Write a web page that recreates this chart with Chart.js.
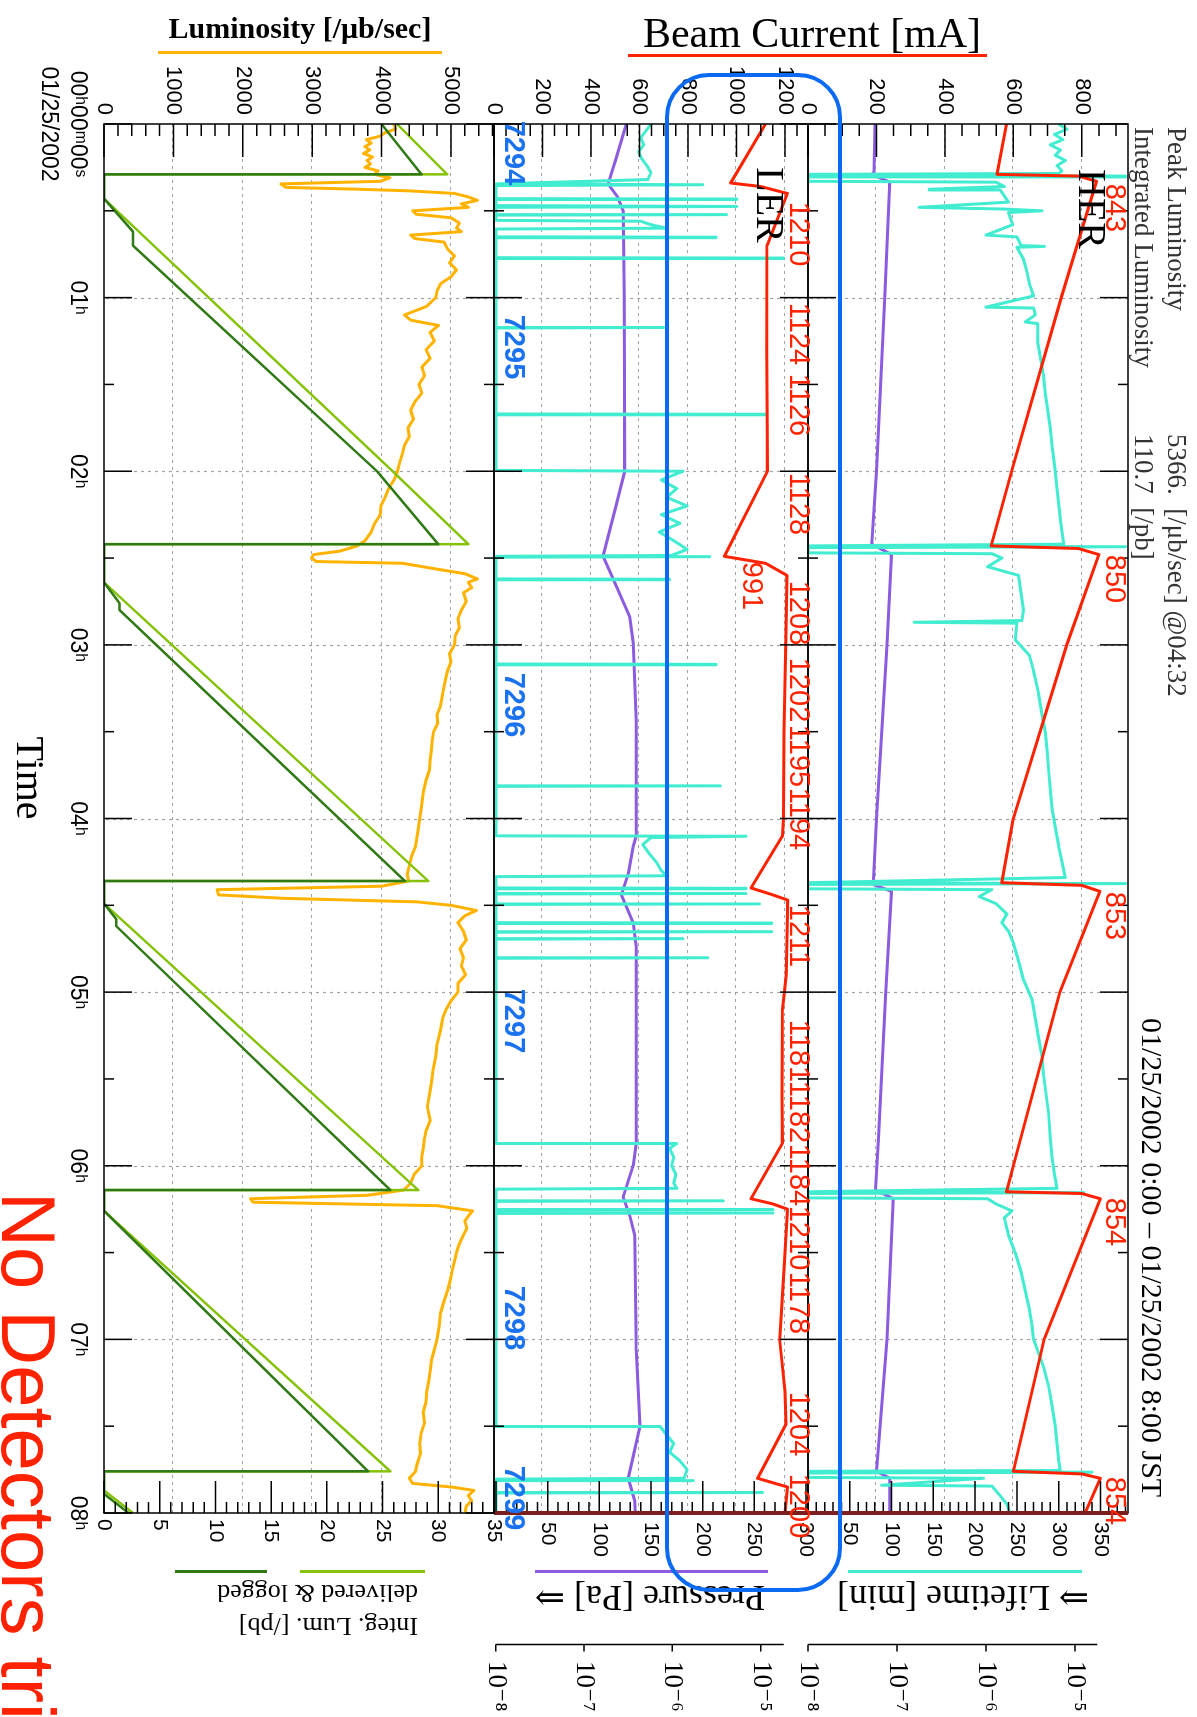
<!DOCTYPE html>
<html><head><meta charset="utf-8">
<script src="https://cdn.jsdelivr.net/npm/chart.js@4.4.1/dist/chart.umd.min.js"></script>
<style>
html,body{margin:0;padding:0;background:#fff;width:1197px;height:1717px;overflow:hidden;position:relative;}
#land{position:absolute;left:0;top:0;width:1717px;height:1197px;transform-origin:0 0;transform:translate(1197px,0) rotate(90deg);}
#land canvas{position:absolute;left:0;}
.t{position:absolute;white-space:nowrap;line-height:1;}
.c{transform:translate(-50%,-50%);}
.serif{font-family:'Liberation Serif','DejaVu Serif',serif;}
.sans{font-family:'Liberation Sans','DejaVu Sans',sans-serif;}
.red{color:#ff2200;font-size:29px;}
.run{color:#1a72f0;font-size:29px;font-weight:bold;}
.bar{position:absolute;height:3px;}
</style></head><body>
<div id="land">
  <canvas id="her" width="1717" height="400" style="top:29px"></canvas>
  <canvas id="ler" width="1717" height="394" style="top:349px"></canvas>
  <canvas id="lum" width="1717" height="534" style="top:663px"></canvas>

  <div class="t serif" style="left:127px;top:20px;font-size:27px;color:#333;transform:translateY(-50%)">Peak Luminosity</div>
  <div class="t serif" style="left:434px;top:20px;font-size:27px;color:#333;transform:translateY(-50%)">5366.&nbsp; [/μb/sec] @04:32</div>
  <div class="t serif" style="left:127px;top:53px;font-size:27px;color:#333;transform:translateY(-50%)">Integrated Luminosity</div>
  <div class="t serif" style="left:434px;top:53px;font-size:27px;color:#333;transform:translateY(-50%)">110.7&nbsp; [/pb]</div>
  <div class="t serif" style="left:1018px;top:45px;font-size:30px;transform:translateY(-50%)">01/25/2002 0:00 – 01/25/2002 8:00 JST</div>

  <div class="t serif c" style="left:209px;top:105px;font-size:40px">HER</div>
  <div class="t serif c" style="left:205px;top:427px;font-size:40px">LER</div>

  <div class="t sans c red" style="left:208px;top:81px">843</div>
  <div class="t sans c red" style="left:579px;top:81px">850</div>
  <div class="t sans c red" style="left:916px;top:81px">853</div>
  <div class="t sans c red" style="left:1222px;top:81px">854</div>
  <div class="t sans c red" style="left:1501px;top:81px">854</div>

  <div class="t sans c red" style="left:234px;top:397px">1210</div>
  <div class="t sans c red" style="left:334px;top:397px">1124</div>
  <div class="t sans c red" style="left:405px;top:397px">1126</div>
  <div class="t sans c red" style="left:504px;top:397px">1128</div>
  <div class="t sans c red" style="left:586px;top:444px">991</div>
  <div class="t sans c red" style="left:613px;top:397px">1208</div>
  <div class="t sans c red" style="left:690px;top:397px">1202</div>
  <div class="t sans c red" style="left:756px;top:397px">1195</div>
  <div class="t sans c red" style="left:819px;top:397px">1194</div>
  <div class="t sans c red" style="left:936px;top:397px">1211</div>
  <div class="t sans c red" style="left:1051px;top:397px">1181</div>
  <div class="t sans c red" style="left:1112px;top:397px">1182</div>
  <div class="t sans c red" style="left:1175px;top:397px">1184</div>
  <div class="t sans c red" style="left:1238px;top:397px">1210</div>
  <div class="t sans c red" style="left:1303px;top:397px">1178</div>
  <div class="t sans c red" style="left:1424px;top:397px">1204</div>
  <div class="t sans c red" style="left:1506px;top:397px">1200</div>

  <div class="t sans c run" style="left:153px;top:682px">7294</div>
  <div class="t sans c run" style="left:347px;top:682px">7295</div>
  <div class="t sans c run" style="left:705px;top:682px">7296</div>
  <div class="t sans c run" style="left:1021px;top:682px">7297</div>
  <div class="t sans c run" style="left:1318px;top:682px">7298</div>
  <div class="t sans c run" style="left:1498px;top:682px">7299</div>

  <div class="t serif c" style="left:778px;top:1167px;font-size:40px">Time</div>
  <div class="t sans" style="left:1192px;top:1131px;font-size:76px;line-height:76px;color:#ff2200">No Detectors tri</div>
</div>

<div class="t serif c" style="left:812px;top:33px;font-size:42px">Beam Current [mA]</div>
<div class="bar" style="left:628px;top:54px;width:359px;background:#ff2200"></div>
<div class="t serif c" style="left:300px;top:28px;font-size:30px;font-weight:bold">Luminosity [/μb/sec]</div>
<div class="bar" style="left:158px;top:51px;width:284px;background:#ffb300"></div>

<div class="t serif" style="left:963px;top:1598px;font-size:36px;transform:translate(-50%,-50%) rotate(180deg)">⇒ Lifetime [min]</div>
<div class="bar" style="left:848px;top:1570px;width:234px;background:#42ecd0"></div>
<div class="t serif" style="left:650px;top:1598px;font-size:36px;transform:translate(-50%,-50%) rotate(180deg)">Pressure [Pa] ⇒</div>
<div class="bar" style="left:535px;top:1570px;width:233px;background:#8c5ce0"></div>
<div class="t serif" style="left:183px;top:1577px;width:235px;font-size:26px;line-height:33px;white-space:pre;transform:rotate(180deg)">Integ. Lum. [/pb]
delivered &amp; logged</div>
<div class="bar" style="left:300px;top:1570px;width:125px;background:#86c20a"></div>
<div class="bar" style="left:175px;top:1570px;width:92px;background:#2f7a14"></div>

<div style="position:absolute;left:665px;top:73px;width:177px;height:1519px;box-sizing:border-box;border:4.5px solid #0a6af2;border-radius:44px;"></div>

<script>
// ---------- axis ticks ----------
const hours = [0, 1, 2, 3, 4, 5, 6, 7, 8];
const timeTickLabels = [['00ʰ00ᵐ00ˢ', '01/25/2002'], '01ʰ', '02ʰ', '03ʰ', '04ʰ', '05ʰ', '06ʰ', '07ʰ', '08ʰ'];
const herCurTicks = [0, 200, 400, 600, 800];
const lerCurTicks = [0, 200, 400, 600, 800, 1000, 1200];
const lumTicks = [0, 1000, 2000, 3000, 4000, 5000];
const herLifeTicks = [50, 100, 150, 200, 250, 300, 350];
const lerLifeTicks = [50, 100, 150, 200, 250, 300];
const intTicks = [0, 5, 10, 15, 20, 25, 30, 35];
const presTicks = [1e-8, 1e-7, 1e-6, 1e-5];
const presTickLabels = ['10⁻⁸', '10⁻⁷', '10⁻⁶', '10⁻⁵'];

// ---------- HER (time [h], value) ----------
const herCurrent = [[0,580],[0.29,552],[0.30,790],[0.33,843],[1.0,740],[2.0,595],[2.43,535],[2.445,790],[2.48,850],[3.0,756],[4.0,600],[4.37,566],[4.385,800],[4.42,853],[5.0,736],[6.0,600],[6.15,580],[6.16,800],[6.19,854],[7.0,690],[7.76,600],[7.775,800],[7.80,854],[8.0,810]];
const herLifetime = [[0,300],[0.03,310],[0.06,295],[0.09,305],[0.12,290],[0.15,302],[0.18,296],[0.21,308],[0.24,298],[0.27,304],[0.285,300],
 [0.29,0],[0.295,0],[0.30,380],[0.305,0],[0.33,0],
 [0.335,225],[0.36,235],[0.376,145],[0.38,230],[0.45,240],[0.48,133],[0.49,235],[0.50,280],[0.51,240],[0.58,245],[0.64,213],[0.65,250],[0.70,255],[0.705,283],[0.71,250],[0.78,258],[0.85,262],[0.92,265],[0.99,270],[1.055,213],[1.06,270],[1.10,272],[1.14,260],[1.15,275],[1.26,275],[1.34,278],[1.45,282],[1.55,284],[1.65,287],[1.75,290],[1.85,292],[2.0,296],[2.1,298],[2.27,302],[2.35,304],[2.42,306],
 [2.43,0],[2.435,380],[2.44,0],[2.47,0],
 [2.475,220],[2.50,232],[2.55,215],[2.6,252],[2.7,255],[2.8,258],[2.86,256],[2.87,127],[2.875,250],[2.97,248],[3.06,265],[3.15,270],[3.28,276],[3.4,280],[3.5,284],[3.6,286],[3.72,288],[3.83,290],[3.94,292],[4.05,296],[4.16,300],[4.25,304],[4.34,308],
 [4.37,0],[4.375,380],[4.38,0],[4.405,0],
 [4.41,220],[4.45,205],[4.49,225],[4.55,238],[4.60,232],[4.65,240],[4.72,246],[4.82,252],[4.93,258],[5.04,268],[5.15,272],[5.26,276],[5.37,280],[5.48,282],[5.59,285],[5.70,288],[5.84,290],[5.95,292],[6.05,295],[6.13,298],
 [6.15,0],[6.155,330],[6.16,0],[6.185,0],
 [6.19,215],[6.22,225],[6.26,244],[6.30,235],[6.40,240],[6.5,248],[6.61,255],[6.72,260],[6.83,265],[6.92,268],[7.0,270],[7.08,276],[7.16,282],[7.27,288],[7.38,292],[7.5,296],[7.6,298],[7.7,300],[7.755,302],
 [7.76,0],[7.765,340],[7.77,0],[7.795,0],
 [7.80,210],[7.84,88],[7.845,220],[7.9,230],[7.95,238],[8.0,242]];
const herPressure = [[0,5.66e-8],[0.28,5.5e-8],[0.29,5.2e-8],[0.335,8.3e-8],[1.0,7.3e-8],[2.0,5.9e-8],[2.42,5.2e-8],[2.48,8.7e-8],[3.0,7.7e-8],[4.0,5.9e-8],[4.38,5.4e-8],[4.42,8.7e-8],[5.0,7.5e-8],[5.84,6.2e-8],[6.14,5.75e-8],[6.19,9.1e-8],[7.0,7.7e-8],[7.76,5.9e-8],[7.80,8.3e-8],[8.0,8.3e-8]];

// ---------- LER ----------
const lerCurrent = [[0,1120],[0.34,976],[0.36,1100],[0.40,1210],[0.70,1126],[1.3,1125],[2.0,1128],[2.49,950],[2.53,1120],[2.60,1208],[3.0,1203],[3.5,1196],[4.0,1194],[4.10,1190],[4.40,1060],[4.44,1150],[4.47,1211],[4.9,1205],[5.1,1190],[5.6,1188],[5.87,1190],[6.19,1060],[6.22,1150],[6.25,1210],[6.6,1196],[7.0,1178],[7.3,1200],[7.49,1204],[7.80,1087],[7.83,1160],[7.85,1210],[8.0,1200]];
const lerLifetime = [[0,150],[0.04,145],[0.08,140],[0.12,143],[0.16,138],[0.2,141],[0.24,146],[0.28,150],[0.32,147],
 [0.345,0],[0.35,200],[0.355,0],[0.43,0],[0.432,233],[0.435,0],[0.47,0],[0.475,233],[0.48,0],[0.52,0],[0.522,223],[0.525,0],
 [0.555,0],[0.56,140],[0.58,150],[0.60,165],[0.605,0],
 [0.65,0],[0.652,213],[0.655,0],[0.77,0],[0.772,278],[0.775,0],
 [1.17,0],[1.172,162],[1.175,0],[1.67,0],[1.672,262],[1.675,0],
 [1.995,0],[2.0,181],[2.05,160],[2.1,175],[2.15,165],[2.2,185],[2.25,160],[2.3,178],[2.35,158],[2.4,172],[2.45,185],[2.485,170],
 [2.49,0],[2.492,207],[2.495,0],[2.62,0],[2.622,168],[2.625,0],
 [3.11,0],[3.112,213],[3.115,0],[3.81,0],[3.812,217],[3.815,0],
 [4.10,0],[4.102,242],[4.11,150],[4.15,142],[4.2,148],[4.25,155],[4.3,160],[4.33,165],[4.335,0],
 [4.40,0],[4.402,242],[4.405,0],[4.43,0],[4.432,242],[4.435,0],[4.49,0],[4.492,255],[4.495,0],[4.60,0],[4.602,267],[4.605,0],[4.65,0],[4.652,267],[4.655,0],[4.69,0],[4.692,181],[4.695,0],[4.80,0],[4.802,205],[4.805,0],
 [5.87,0],[5.872,175],[5.90,168],[5.95,172],[6.0,170],[6.05,174],[6.10,172],[6.13,175],[6.135,0],
 [6.20,0],[6.202,220],[6.205,0],[6.25,0],[6.252,268],[6.255,0],[6.27,0],[6.272,268],[6.275,0],
 [7.50,0],[7.502,159],[7.55,165],[7.6,172],[7.65,168],[7.7,178],[7.75,185],[7.80,182],[7.805,0],
 [7.81,0],[7.812,191],[7.815,0],[7.88,0],[7.882,258],[7.885,0],[8.0,0]];
const lerPressure = [[0,3.0e-7],[0.2,2.3e-7],[0.345,1.87e-7],[0.42,2.4e-7],[0.5,2.77e-7],[1.0,2.85e-7],[2.0,2.89e-7],[2.2,2.3e-7],[2.49,1.64e-7],[2.62,2.13e-7],[2.84,3.3e-7],[2.99,3.6e-7],[3.44,3.9e-7],[4.10,3.9e-7],[4.16,3.6e-7],[4.32,3.16e-7],[4.44,2.65e-7],[4.6,3.6e-7],[4.74,3.9e-7],[5.87,3.9e-7],[6.0,3.6e-7],[6.18,2.77e-7],[6.29,3.3e-7],[6.40,3.75e-7],[7.06,3.9e-7],[7.5,4.3e-7],[7.80,3.16e-7],[7.93,3.75e-7],[8.0,3.8e-7]];

// ---------- Luminosity [/ub/sec], per fill ----------
const lumFill1 = [[0,4180],[0.03,4200],[0.05,4050],[0.07,3980],[0.09,3780],[0.11,3850],[0.13,3760],[0.15,3830],[0.17,3740],[0.19,3870],[0.21,3790],[0.23,3840],[0.25,3760],[0.27,3950],[0.29,3900],[0.31,4120],[0.33,3980],[0.345,2550],[0.365,2620],[0.375,3600],[0.385,4400],[0.40,5050],[0.42,5250],[0.44,5380],[0.46,5150],[0.48,5250],[0.50,4450],[0.52,4500],[0.54,5000],[0.57,5120],[0.60,5080],[0.62,5150],[0.64,4420],[0.66,4480],[0.68,4900],[0.72,4950],[0.76,5050],[0.80,4980],[0.84,5080],[0.88,5000],[0.92,4850],[0.96,4800],[1.0,4780],[1.05,4650],[1.10,4330],[1.13,4420],[1.16,4820],[1.20,4700],[1.25,4760],[1.30,4640],[1.35,4700],[1.40,4580],[1.45,4620],[1.50,4540],[1.55,4580],[1.60,4480],[1.65,4420],[1.70,4460],[1.75,4380],[1.80,4400],[1.85,4330],[1.90,4300],[1.95,4260],[2.0,4230],[2.05,4180],[2.10,4100],[2.15,4050],[2.20,3990],[2.25,3980],[2.30,3900],[2.35,3850],[2.40,3760],[2.43,3650]];
const lumFill2 = [[2.46,3400],[2.48,3020],[2.50,2990],[2.52,3060],[2.53,4300],[2.56,4740],[2.59,5200],[2.62,5380],[2.64,5250],[2.67,5300],[2.70,5180],[2.75,5220],[2.80,5150],[2.85,5100],[2.90,5120],[2.95,5060],[3.0,5050],[3.05,4980],[3.10,5000],[3.15,4950],[3.20,4920],[3.28,4880],[3.35,4850],[3.40,4800],[3.45,4810],[3.50,4750],[3.55,4730],[3.60,4720],[3.66,4700],[3.72,4690],[3.78,4640],[3.85,4600],[3.92,4580],[4.0,4550],[4.08,4520],[4.16,4490],[4.22,4430],[4.27,4400],[4.32,4370],[4.36,4390]];
const lumFill3 = [[4.39,4000],[4.41,1630],[4.44,1650],[4.46,2600],[4.48,4500],[4.50,5000],[4.53,5366],[4.56,5200],[4.60,5100],[4.65,5180],[4.70,5220],[4.75,5130],[4.80,5180],[4.85,5150],[4.90,5210],[4.95,5100],[5.0,5100],[5.05,5000],[5.10,4930],[5.15,4880],[5.22,4850],[5.30,4800],[5.37,4780],[5.45,4740],[5.52,4720],[5.59,4690],[5.66,4660],[5.74,4700],[5.80,4640],[5.84,4620],[5.90,4600],[5.95,4580],[6.0,4580],[6.05,4470],[6.10,4420],[6.14,4320]];
const lumFill4 = [[6.17,3800],[6.19,2110],[6.21,2150],[6.23,4800],[6.26,5310],[6.29,5250],[6.32,5200],[6.36,5230],[6.40,5180],[6.45,5120],[6.50,5080],[6.55,5050],[6.60,5020],[6.66,4990],[6.72,4950],[6.78,4900],[6.85,4850],[6.92,4830],[7.0,4800],[7.06,4760],[7.12,4720],[7.18,4700],[7.24,4680],[7.30,4650],[7.36,4640],[7.42,4600],[7.48,4620],[7.54,4570],[7.60,4550],[7.66,4560],[7.72,4510],[7.76,4490]];
const lumFill5 = [[7.80,4400],[7.83,4450],[7.85,5000],[7.87,5330],[7.90,5250],[7.93,5300],[7.96,5220],[8.0,5200]];

// ---------- Integrated luminosity [/pb] ----------
const intDelivered = [[0,26.3],[0.29,30.8],[0.29,0],[0.43,0],[2.0,25.9],[2.42,32.7],[2.42,0],[2.64,0],[4.36,29.1],[4.36,0],[4.49,0],[6.14,28.2],[6.14,0],[6.26,0],[7.76,25.7],[7.76,0],[7.87,0],[8.0,2.6]];
const intLogged = [[0,24.9],[0.29,28.5],[0.29,0],[0.43,0],[0.62,2.6],[0.70,2.6],[2.0,24.5],[2.42,30.0],[2.42,0],[2.64,0],[2.76,1.4],[2.80,1.4],[4.36,27.0],[4.36,0],[4.49,0],[4.58,1.1],[4.62,1.1],[6.14,25.7],[6.14,0],[6.26,0],[7.76,23.7],[7.76,0],[7.89,0],[8.0,2.2]];

// ---------- helpers ----------
const RED = '#ff2200', CYAN = '#42ecd0', PURPLE = '#8c5ce0', ORANGE = '#ffb300', LGREEN = '#86c20a', DGREEN = '#2f7a14';
const pts = arr => arr.map(p => ({x: p[0], y: p[1]}));
const fixed = vals => (s => { s.ticks = vals.map(v => ({value: v})); });
const lumAll = [].concat(lumFill1, lumFill2, lumFill3, lumFill4, lumFill5);

Chart.defaults.font.family = "'Liberation Sans','DejaVu Sans',sans-serif";
Chart.defaults.color = '#000';

const frame = {
  id: 'frame',
  beforeDatasetsDraw(chart, args, o) {
    const {ctx, chartArea: a} = chart;
    const xs = chart.scales.x, ys = chart.scales.y;
    ctx.save();
    ctx.strokeStyle = '#a3a3a3'; ctx.lineWidth = 1.2; ctx.setLineDash([3, 4]);
    ctx.beginPath();
    for (const h of hours) {
      if (h <= xs.min || h >= xs.max) continue;
      const px = Math.round(xs.getPixelForValue(h)) + 0.5;
      ctx.moveTo(px, a.top); ctx.lineTo(px, a.bottom);
    }
    for (const v of o.grid) {
      if (v <= ys.min || v >= ys.max) continue;
      const py = Math.round(ys.getPixelForValue(v)) + 0.5;
      ctx.moveTo(a.left, py); ctx.lineTo(a.right, py);
    }
    ctx.stroke();
    ctx.restore();
  },
  afterDatasetsDraw(chart, args, o) {
    const {ctx, chartArea: a} = chart;
    const xs = chart.scales.x, ys = chart.scales.y, yr = chart.scales[o.rightId];
    const isMajor = (v, step) => Math.abs(v / step - Math.round(v / step)) < 1e-6;
    ctx.save();
    ctx.setLineDash([]);
    ctx.strokeStyle = '#000'; ctx.lineWidth = 1.5;
    ctx.beginPath();
    for (let k = 0; k <= 16; k++) {
      const px = xs.getPixelForValue(k / 2), len = k % 2 ? 10 : 28;
      ctx.moveTo(px, a.top); ctx.lineTo(px, a.top + len);
      ctx.moveTo(px, a.bottom); ctx.lineTo(px, a.bottom - len);
    }
    for (let v = 0; v <= ys.max + 1e-9; v += o.leftMinor) {
      const py = ys.getPixelForValue(v), len = isMajor(v, o.leftMajor) ? 33 : 12;
      ctx.moveTo(a.left, py); ctx.lineTo(a.left + len, py);
    }
    for (let v = 0; v <= yr.max + 1e-9; v += o.rightMinor) {
      const py = yr.getPixelForValue(v), len = isMajor(v, o.rightMajor) ? 32 : 11;
      ctx.moveTo(a.right, py); ctx.lineTo(a.right - len, py);
    }
    ctx.stroke();
    ctx.strokeRect(a.left, a.top, a.right - a.left, a.bottom - a.top);
    if (o.maroon) {
      ctx.strokeStyle = '#7a1e1e'; ctx.lineWidth = 4;
      ctx.beginPath(); ctx.moveTo(a.right, a.top); ctx.lineTo(a.right, a.bottom); ctx.stroke();
    }
    if (o.presId) {
      const ps = chart.scales[o.presId];
      const x0 = ps.left + 0.5;
      ctx.strokeStyle = '#000'; ctx.lineWidth = 1.5;
      ctx.beginPath();
      ctx.moveTo(x0, ps.getPixelForValue(Math.max(ps.min, presTicks[0])));
      ctx.lineTo(x0, ps.getPixelForValue(o.presEnd));
      for (const v of presTicks) { const py = ps.getPixelForValue(v); ctx.moveTo(x0, py); ctx.lineTo(x0 + 7, py); }
      ctx.stroke();
    }
    ctx.restore();
  }
};

const xScale = show => ({
  type: 'linear', min: 0, max: 8, display: show,
  grid: {display: false, drawTicks: false}, border: {display: false},
  afterBuildTicks: fixed(hours),
  afterFit: s => { s.height = show ? 104 : 0; },
  ticks: {autoSkip: false, maxRotation: 0, minRotation: 0, padding: 12, font: {size: 23, lineHeight: 1.26},
          callback: (v, i) => timeTickLabels[i]}
});
const yLeft = (min, max, vals) => ({
  type: 'linear', position: 'left', min, max,
  grid: {display: false, drawTicks: false}, border: {display: false},
  afterBuildTicks: fixed(vals), afterFit: s => { s.width = 124; },
  ticks: {autoSkip: false, padding: 9, font: {size: 22}, callback: v => String(v)}
});
const yRight = (min, max, vals, width, pad) => ({
  type: 'linear', position: 'right', weight: 0, min, max,
  grid: {display: false, drawTicks: false}, border: {display: false},
  afterBuildTicks: fixed(vals), afterFit: s => { s.width = width; },
  ticks: {autoSkip: false, padding: pad, font: {size: 21}, callback: v => String(v)}
});
const yPres = (min, max) => ({
  type: 'logarithmic', position: 'right', weight: 1, min, max,
  grid: {display: false, drawTicks: false}, border: {display: false},
  afterBuildTicks: fixed(presTicks), afterFit: s => { s.width = 73; },
  ticks: {autoSkip: false, padding: 17, font: {family: "'Liberation Serif','DejaVu Serif',serif", size: 27},
          callback: (v, i) => presTickLabels[i]}
});
const base = (padBottom, frameOpts) => ({
  responsive: false, animation: false, events: [],
  layout: {padding: {top: 40, bottom: padBottom, left: 0, right: 0}},
  elements: {point: {radius: 0}, line: {tension: 0, borderJoinStyle: 'round'}},
  plugins: {legend: {display: false}, tooltip: {enabled: false}, frame: frameOpts}
});
const line = (data, yAxisID, color, width) => ({data: pts(data), yAxisID, borderColor: color, borderWidth: width, fill: false, pointRadius: 0});

new Chart(document.getElementById('her'), {
  type: 'line',
  data: {datasets: [line(herCurrent, 'y', RED, 3), line(herLifetime, 'yLife', CYAN, 3), line(herPressure, 'yPres', PURPLE, 3)]},
  options: Object.assign(base(40, {grid: herCurTicks, leftMinor: 50, leftMajor: 200, rightId: 'yLife', rightMinor: 10, rightMajor: 50, maroon: true, presId: 'yPres', presEnd: Math.pow(10, -4.75)}), {
    scales: {x: xScale(false), y: yLeft(0, 935, herCurTicks), yLife: yRight(0, 383, herLifeTicks, 131, 9), yPres: yPres(1e-8, Math.pow(10, -4.404))}
  }),
  plugins: [frame]
});

new Chart(document.getElementById('ler'), {
  type: 'line',
  data: {datasets: [line(lerCurrent, 'y', RED, 3), line(lerLifetime, 'yLife', CYAN, 3), line(lerPressure, 'yPres', PURPLE, 3)]},
  options: Object.assign(base(40, {grid: lerCurTicks, leftMinor: 50, leftMajor: 200, rightId: 'yLife', rightMinor: 10, rightMajor: 50, maroon: true, presId: 'yPres', presEnd: Math.pow(10, -4.74)}), {
    scales: {x: xScale(false), y: yLeft(0, 1295, lerCurTicks), yLife: yRight(-2, 302, lerLifeTicks, 131, 9), yPres: yPres(Math.pow(10, -8.02), Math.pow(10, -4.464))}
  }),
  plugins: [frame]
});

new Chart(document.getElementById('lum'), {
  type: 'line',
  data: {datasets: [line(intLogged, 'yInt', DGREEN, 2.5), line(intDelivered, 'yInt', LGREEN, 2.5), line(lumAll, 'y', ORANGE, 3)]},
  options: Object.assign(base(0, {grid: lumTicks, leftMinor: 200, leftMajor: 1000, rightId: 'yInt', rightMinor: 1, rightMajor: 5, maroon: false}), {
    scales: {x: xScale(true), y: yLeft(0, 5620, lumTicks), yInt: yRight(0, 35, intTicks, 204, 6)}
  }),
  plugins: [frame]
});
</script>
</body></html>
